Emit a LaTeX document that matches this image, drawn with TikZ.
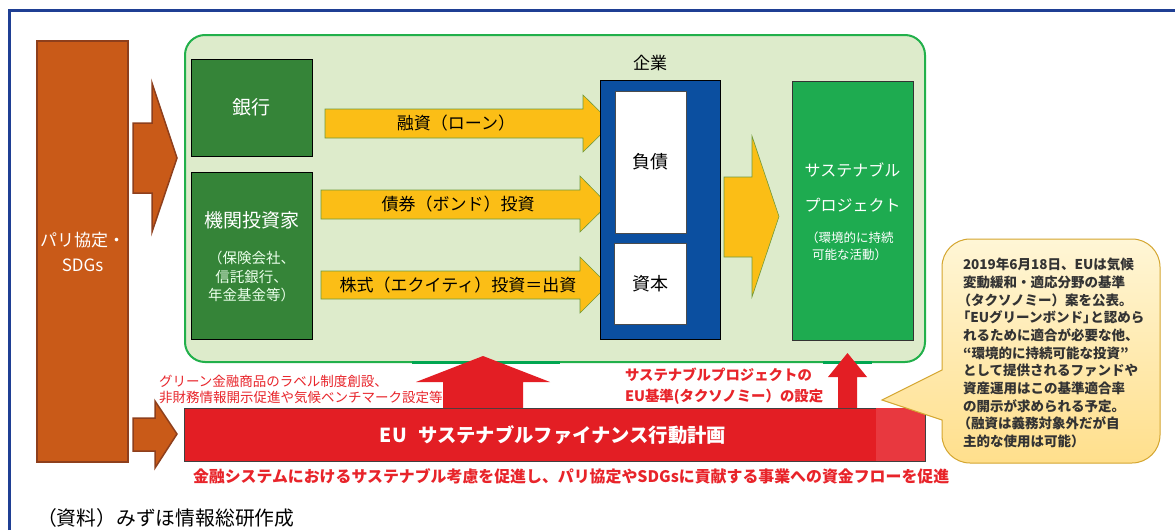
\documentclass[tikz,border=0pt]{standalone}
\usepackage{fontspec}
\setmainfont{Noto Sans CJK JP}
\definecolor{orangec}{HTML}{C95A18}
\definecolor{orangeb}{HTML}{8E3F1C}
\definecolor{lgreen}{HTML}{DDEBCB}
\definecolor{bgreen}{HTML}{22B04B}
\definecolor{sgreen}{HTML}{00A651}
\definecolor{dgreen}{HTML}{358438}
\definecolor{yellowc}{HTML}{FBBE16}
\definecolor{yellowb}{HTML}{6F9A3B}
\definecolor{bluec}{HTML}{0B4FA0}
\definecolor{projc}{HTML}{1EAB50}
\definecolor{redc}{HTML}{E31E24}
\definecolor{redl}{HTML}{E8383F}
\definecolor{redt}{HTML}{E8242A}
\definecolor{framec}{HTML}{1F3F94}
\definecolor{notetop}{HTML}{FFF6D6}
\definecolor{notebot}{HTML}{FFDF8C}
\definecolor{noteb}{HTML}{D4A630}
\newcommand\fsz[2]{\fontsize{#1}{#2}\selectfont}
\tikzset{
  orangeshape/.style={fill=orangec, draw=orangeb, line width=1.5pt},
  yarrow/.style={fill=yellowc, draw=yellowb, line width=0.6pt},
  rarrow/.style={fill=redc},
  gbox/.style={fill=dgreen, draw=black, line width=0.6pt, minimum width=121pt, anchor=north west},
  wbox/.style={fill=white, draw=black!70, line width=0.6pt, anchor=north west},
  wtext/.style={text=white},
  lbl/.style={text=black, font=\fsz{17}{20}},
  redsmall/.style={text=redt, font=\fsz{13.5}{16}, anchor=west},
  redbold/.style={text=redt, font=\fsz{14.4}{18}\bfseries, anchor=west},
}
\begin{document}
\begin{tikzpicture}[x=1pt,y=-1pt, every node/.style={inner sep=0pt, outer sep=0pt}]
\useasboundingbox (0,0) rectangle (1175,530);
\fill[white] (0,0) rectangle (1175,530);
% frame
\draw[framec, line width=3pt] (9,530) -- (9,10) -- (1175,10);

% Paris agreement
\node[orangeshape, minimum width=91pt, minimum height=421pt, anchor=north west,
      text=white, font=\fsz{17}{25}, align=center] (paris) at (37,41) {パリ協定・\\SDGs};
\path[orangeshape] (133,123) -- (152,123) -- (152,83) -- (177,158) -- (152,232) -- (152,193) -- (133,193) -- cycle;
\path[orangeshape] (133,418) -- (155,418) -- (155,401) -- (177,434) -- (155,468) -- (155,451) -- (133,451) -- cycle;

% green area
\draw[fill=lgreen, draw=bgreen, line width=2pt, rounded corners=20pt] (185,35) rectangle (925,362);

% banks / investors
\node[gbox, minimum height=97pt] (bank) at (191,59) {};
\node[wtext, font=\fsz{19}{22}] (banktxt) at (bank.center) {銀行};
\node[gbox, minimum height=167pt] (inv) at (191,172) {};
\node[wtext, font=\fsz{19}{22}] (invtxt) at (251.5,220) {機関投資家};
\node[text=white!92!green, font=\fsz{14.5}{18.7}, align=center, anchor=north] (invsub) at (251.5,251) {（保険会社、\\信託銀行、\\年金基金等）};

% yellow arrows
\path[yarrow] (325,109) -- (583,109) -- (583,95) -- (612,123.5) -- (583,152) -- (583,138) -- (325,138) -- cycle;
\path[yarrow] (321,190) -- (580,190) -- (580,176) -- (608,204.5) -- (580,232) -- (580,219) -- (321,219) -- cycle;
\path[yarrow] (321,271) -- (580,271) -- (580,257) -- (608,285) -- (580,313) -- (580,299) -- (321,299) -- cycle;
\node[lbl] (l1) at (456,123.5) {融資（ローン）};
\node[lbl] (l2) at (458,204.5) {債券（ボンド）投資};
\node[lbl] (l3) at (458,285) {株式（エクイティ）投資＝出資};

% company
\node[font=\fsz{17}{20}] (corptitle) at (650,63) {企業};
\node[fill=bluec, draw=black, line width=0.8pt, anchor=north west, minimum width=120pt, minimum height=259pt] (corp) at (600,80) {};
\node[wbox, minimum width=71pt, minimum height=142pt] (debt) at (615,91) {};
\node[font=\fsz{18}{21}] (debttxt) at (debt.center) {負債};
\node[wbox, minimum width=72pt, minimum height=81pt] (equity) at (614,243) {};
\node[font=\fsz{18}{21}] (eqtxt) at (equity.center) {資本};

% big yellow arrow
\path[yarrow] (724,177) -- (752,177) -- (752,136) -- (779,216.5) -- (752,297) -- (752,257) -- (724,257) -- cycle;

% sustainable project
\node[fill=projc, draw=black!80, line width=0.6pt, anchor=north west, minimum width=121pt, minimum height=259pt] (proj) at (792,81) {};
\node[wtext, font=\fsz{16}{19}] (p1) at (852.5,170) {サステナブル};
\node[wtext, font=\fsz{16}{19}] (p2) at (852.5,205) {プロジェクト};
\node[wtext, font=\fsz{12.5}{15}, anchor=west] (p3) at (806,238) {（環境的に持続};
\node[wtext, font=\fsz{12.5}{15}, anchor=west] (p4) at (812,255) {可能な活動）};

% red band
\node[fill=redc, draw=black!75, line width=0.6pt, anchor=north west, minimum width=741pt, minimum height=53pt] (band) at (184,408) {};
\fill[redl] (876,408.3) rectangle (924.7,460.7);
\node[wtext, font=\fsz{19.3}{23}\bfseries] (bandtxt) at (553,435) {EU\hspace{0.6em}サステナブルファイナンス行動計画};

% up arrows
\draw[sgreen, line width=3pt] (412,362) -- (560,362);
\draw[sgreen, line width=3pt] (823,362) -- (872,362);
\path[rarrow] (443,408) -- (443,382) -- (416,382) -- (483,356) -- (550,382) -- (523,382) -- (523,408) -- cycle;
\path[rarrow] (838,408) -- (838,377) -- (828,377) -- (847.5,353) -- (867,377) -- (857,377) -- (857,408) -- cycle;

% red texts
\node[redsmall] (rs1) at (159,381) {グリーン金融商品のラベル制度創設、};
\node[redsmall] (rs2) at (159,397) {非財務情報開示促進や気候ベンチマーク設定等};
\node[redbold] (rb1) at (625,375) {サステナブルプロジェクトの};
\node[redbold] (rb2) at (625,397) {EU基準(タクソノミー）の設定};
\node[text=redt, font=\fsz{15.9}{19}\bfseries, anchor=west] (rbot) at (193,476) {金融システムにおけるサステナブル考慮を促進し、パリ協定やSDGsに貢献する事業への資金フローを促進};

% callout
\path[draw=noteb, line width=1pt, top color=notetop, bottom color=notebot]
  (942,420) -- (882,400) -- (942,370) [rounded corners=28pt] -- (942,239) -- (1160,239) -- (1160,463) -- (942,463) [sharp corners] -- cycle;
\node[font=\fsz{13.5}{17.7}\bfseries, align=left, anchor=north west, text=black!80] (note) at (963,258)
 {2019年6月18日、EUは気候\\変動緩和・適応分野の基準\\\hspace*{-0.4em}（タクソノミー）案を公表。\\\hspace*{-0.45em}「EUグリーンボンド」\hspace{-0.45em}と認めら\\れるために適合が必要な他、\\“環境的に持続可能な投資”\\として提供されるファンドや\\資産運用はこの基準適合率\\の開示が求められる予定。\\\hspace*{-0.4em}（融資は義務対象外だが自\\主的な使用は可能）};

% source
\node[font=\fsz{19.8}{23}, anchor=west] (src) at (37,518) {（資料）みずほ情報総研作成};
\end{tikzpicture}
\end{document}
